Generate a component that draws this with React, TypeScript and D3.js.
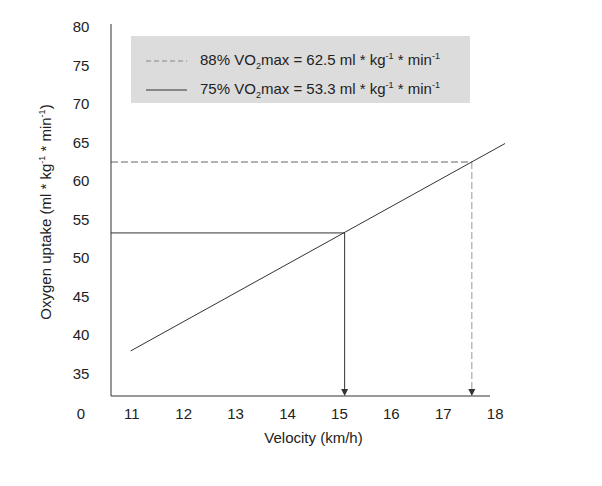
import React from "react";
import * as d3 from "d3";

const xTicks = [11, 12, 13, 14, 15, 16, 17, 18];
const yTicks = [35, 40, 45, 50, 55, 60, 65, 70, 75, 80];
const lineVelocity = [10.98, 18.19];
const lineUptake = [38.0, 64.9];
const thresholdVelocity = [17.55, 15.1];
const thresholdUptake = [62.5, 53.3];
const thresholdPct = ["88%", "75%"];
const thresholdDashed = [true, false];

const W = 602;
const H = 486;

export default function App() {
  const x = d3.scaleLinear().domain([10.6, 17.9]).range([111, 490]);
  const y = d3.scaleLinear().domain([32.15, 80.4]).range([396, 24]);
  const font = "'Liberation Sans', Arial, sans-serif";
  const pts: [number, number][] = lineVelocity.map((v, i) => [v, lineUptake[i]]);
  const line = d3
    .line<[number, number]>()
    .x((d) => x(d[0]))
    .y((d) => y(d[1]));
  const x0 = x.range()[0];
  const yBase = y.range()[0];
  const fs = 15;
  return (
    <svg width={W} height={H} style={{ display: "block", position: "absolute", left: 0, top: 0 }} fontFamily={font}>
      <rect x={0} y={0} width={W} height={H} fill="#fff" />
      {/* legend */}
      <rect x={131} y={36} width={339} height={67} fill="#dcdcdc" />
      {thresholdPct.map((p, i) => {
        const ty = 65 + i * 29;
        return (
          <g key={p}>
            <line
              x1={146}
              x2={187}
              y1={ty - 4}
              y2={ty - 4}
              stroke={thresholdDashed[i] ? "#888" : "#333"}
              strokeWidth={1}
              strokeDasharray={thresholdDashed[i] ? "5,3" : undefined}
            />
            <text x={200} y={ty} fontSize={fs} fill="#222">
              {p} VO
              <tspan fontSize={9} dy={4}>2</tspan>
              <tspan dy={-4}>max = {thresholdUptake[i].toFixed(1)} ml * kg</tspan>
              <tspan fontSize={9} dy={-6}>-1</tspan>
              <tspan dy={6}> * min</tspan>
              <tspan fontSize={9} dy={-6}>-1</tspan>
            </text>
          </g>
        );
      })}
      {/* threshold lines */}
      {thresholdVelocity.map((v, i) => {
        const dashed = thresholdDashed[i];
        const px = x(v);
        const py = y(thresholdUptake[i]);
        return (
          <g key={i}>
            <line x1={x0} x2={px} y1={py} y2={py} stroke={dashed ? "#666" : "#333"} strokeWidth={1} strokeDasharray={dashed ? "7,3" : undefined} />
            <line x1={px} x2={px} y1={py} y2={yBase - 6} stroke={dashed ? "#999" : "#333"} strokeWidth={1} strokeDasharray={dashed ? "7,3" : undefined} />
            <path d={`M${px - 3.5},${yBase - 7}L${px + 3.5},${yBase - 7}L${px},${yBase}Z`} fill="#333" />
          </g>
        );
      })}
      {/* regression line */}
      <path d={line(pts) || ""} fill="none" stroke="#333" strokeWidth={1} />
      {/* axes */}
      <line x1={x0} x2={x0} y1={y.range()[1]} y2={yBase} stroke="#333" strokeWidth={1} />
      <line x1={x0} x2={x.range()[1]} y1={yBase} y2={yBase} stroke="#333" strokeWidth={1} />
      {yTicks.map((t) => (
        <text key={t} x={81} y={y(t) + 5} fontSize={fs} textAnchor="middle" fill="#222">
          {t}
        </text>
      ))}
      <text x={81} y={419} fontSize={fs} textAnchor="middle" fill="#222">0</text>
      {xTicks.map((t) => (
        <text key={t} x={x(t)} y={419} fontSize={fs} textAnchor="middle" fill="#222">
          {t}
        </text>
      ))}
      <text x={x(14.5)} y={443} fontSize={fs} textAnchor="middle" fill="#222">
        Velocity (km/h)
      </text>
      <text transform={`translate(51,212) rotate(-90)`} fontSize={fs} textAnchor="middle" fill="#222">
        Oxygen uptake (ml * kg
        <tspan fontSize={9} dy={-6}>-1</tspan>
        <tspan dy={6}> * min</tspan>
        <tspan fontSize={9} dy={-6}>-1</tspan>
        <tspan dy={6}>)</tspan>
      </text>
    </svg>
  );
}
